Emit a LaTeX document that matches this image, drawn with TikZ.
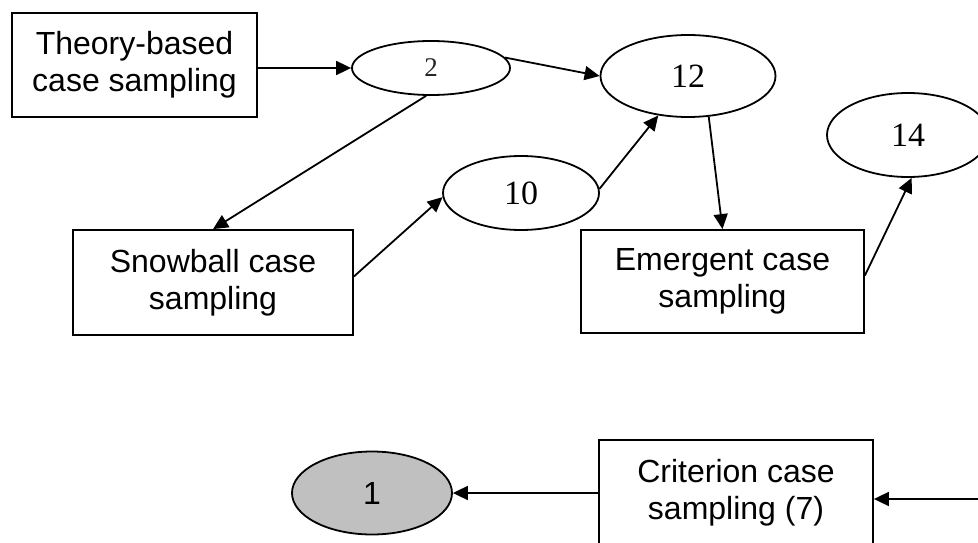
\documentclass[tikz,border=0pt]{standalone}
\usepackage{fontspec}
\setmainfont{Liberation Serif}
\newfontfamily\sansf{Liberation Sans}
\usetikzlibrary{shapes.geometric,arrows.meta,calc}
\begin{document}
\begin{tikzpicture}[x=1pt,y=-1pt,
  line width=1.8pt,
  box/.style={draw, rectangle, align=center, inner sep=0pt,
    font=\sansf\fontsize{32}{37}\selectfont},
  oval/.style={draw, ellipse, inner sep=0pt, font=\fontsize{34}{34}\selectfont},
  arr/.style={-{Triangle[length=15pt,width=14pt]}}]
\useasboundingbox (0,0) rectangle (978,543);
% boxes
\node[box, minimum width=245pt, minimum height=104pt] (theory) at (134.5,65) {Theory-based\\case sampling};
\node[box, minimum width=280pt, minimum height=105pt] (snow) at (213,282.5) {Snowball case\\sampling};
\node[box, minimum width=283pt, minimum height=103pt] (emer) at (722.5,281.5) {Emergent case\\sampling};
\node[box, minimum width=274pt, minimum height=106pt] (crit) at (736,493) {Criterion case\\sampling (7)};
% ellipses
\node[oval, minimum width=158pt, minimum height=54pt] (e2) at (431,68) {\fontsize{27}{27}\selectfont\color{black!85}2};
\node[oval, minimum width=175pt, minimum height=82pt] (e12) at (688,76) {12};
\node[oval, minimum width=162pt, minimum height=84pt] (e14) at (908,135) {14};
\node[oval, minimum width=156pt, minimum height=74pt] (e10) at (521,193) {10};
\node[oval, fill={rgb,255:red,192;green,192;blue,192}, minimum width=160pt, minimum height=83pt, font=\sansf\fontsize{32}{32}\selectfont] (e1) at (372,493) {1};
% connectors
\draw[arr] (theory.east |- e2.west) -- (e2.west);
\draw[arr] (e2.8) -- (e12.west);
\draw[arr] (e2.260) -- (snow.north);
\draw[arr] ($(snow.east)+(0,-6)$) -- (e10.183);
\draw[arr] (e10.3) -- (e12.233);
\draw[arr] (e12.297) -- (emer.north);
\draw[arr] ($(emer.east)+(0,-6)$) -- (e14.275);
\draw[arr] (crit.west) -- (e1.east);
\coordinate (rin) at (990,499);
\draw[arr] (rin) -- (rin -| crit.east);
\end{tikzpicture}
\end{document}
